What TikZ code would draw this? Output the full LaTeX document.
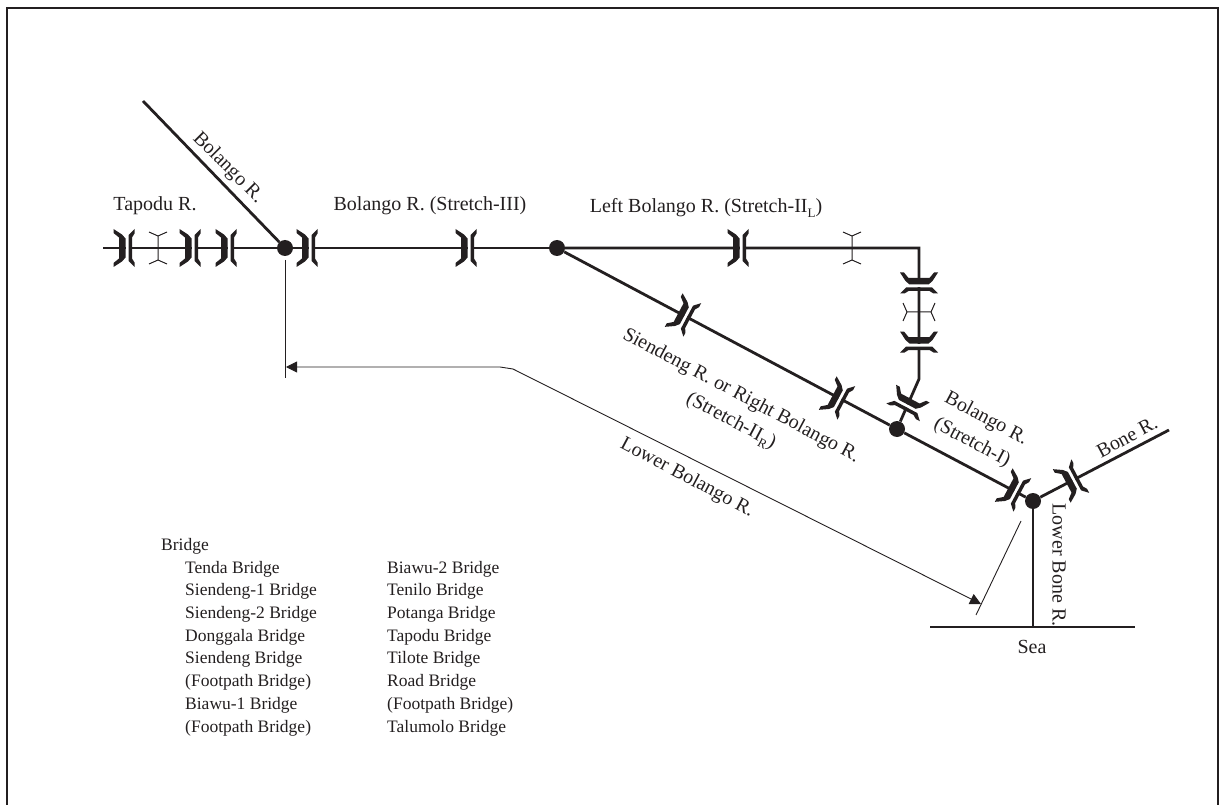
\documentclass[tikz,border=0pt]{standalone}
\usepackage{fontspec}
\setmainfont{Liberation Serif}
\usetikzlibrary{arrows.meta}
\definecolor{ink}{HTML}{231F20}
\newcommand{\lowsub}[1]{\raisebox{-.22em}{\fontsize{13}{13}\selectfont #1}}
\tikzset{
  x=1pt,y=-1pt,
  every node/.style={text=ink,inner sep=0pt},
  river/.style={draw=ink,line width=2.8pt},
  frameline/.style={draw=ink,line width=2.4pt},
  thinline/.style={draw=ink,line width=.9pt},
  dimline/.style={draw=ink,line width=.9pt,{Triangle[length=11pt,width=11pt]}-{Triangle[length=11pt,width=11pt]}},
  junction/.style={circle,fill=ink,minimum size=16pt},
  lab/.style={font=\fontsize{20}{24}\selectfont},
  labb/.style={font=\fontsize{20}{24}\selectfont,anchor=base},
  leg/.style={font=\fontsize{17.5}{21}\selectfont,anchor=base west},
  thickbridge/.pic={
    \fill[white] (1.5,-5) rectangle (4.5,5);
    \fill[ink] (-10.5,-19) -- (-10.5,-15) -- (-5,-10.5) -- (-5,10.5) -- (-10.5,15) -- (-10.5,19) -- (-2,13.5) -- (1.5,9.5) -- (1.5,-9.5) -- (-2,-13.5) -- cycle;
    \fill[ink] (10.5,-19) -- (10.5,-14.5) -- (8,-10.5) -- (8,10.5) -- (10.5,14.5) -- (10.5,19) -- (4.5,13) -- (4.5,-13) -- cycle;
  },
  thinbridge/.pic={
    \draw[ink,line width=1pt] (-9,-16) -- (0,-12) -- (9,-16) (0,-12) -- (0,12) (-9,16) -- (0,12) -- (9,16);
  }
}
\begin{document}
\begin{tikzpicture}
\useasboundingbox (0,0) rectangle (1219,805);
% frame
\coordinate (fa) at (7,805); \coordinate (fb) at (7,8); \coordinate (fc) at (1218,8); \coordinate (fd) at (1218,805);
\draw[frameline] (fa) -- (fb) -- (fc) -- (fd);
% river network
\node[junction] (A) at (285,248) {};
\node[junction] (B) at (557,248) {};
\node[junction] (C) at (897,429) {};
\node[junction] (D) at (1033,501) {};
\coordinate (tapodu) at (103,248);
\coordinate (bolangotop) at (143,101);
\coordinate (corner) at (919,248);
\coordinate (bend) at (919,379);
\coordinate (bone) at (1169,430);
\coordinate (seaL) at (930,627);
\coordinate (seaR) at (1135,627);
\coordinate (seaM) at (1033,627);
\draw[river] (tapodu) -- (A);
\draw[river] (bolangotop) -- (A);
\draw[river] (A) -- (B);
\draw[river] (B) -- (corner) -- (bend) -- (C);
\draw[river] (B) -- (C);
\draw[river] (C) -- (D);
\draw[river] (D) -- (bone);
\draw[river] (D) -- (seaM);
\draw[river] (seaL) -- (seaR);
% bridges
\pic at (124,248) {thickbridge};
\pic at (158,248) {thinbridge};
\pic at (190,248) {thickbridge};
\pic at (226,248) {thickbridge};
\pic at (307,248) {thickbridge};
\pic at (466,248) {thickbridge};
\pic at (738,248) {thickbridge};
\pic at (852,248) {thinbridge};
\pic[rotate=-90] at (919,283) {thickbridge};
\pic[rotate=-90] at (919,312) {thinbridge};
\pic[rotate=-90] at (919,342) {thickbridge};
\pic[rotate=-118] at (908,403) {thickbridge};
\pic[rotate=-28] at (683,315) {thickbridge};
\pic[rotate=-28] at (837,398) {thickbridge};
\pic[rotate=-28] at (1013,490) {thickbridge};
\pic[rotate=28] at (1071,481) {thickbridge};
% dimension lines
\coordinate (t1a) at (285,260); \coordinate (t1b) at (285,378);
\coordinate (t2a) at (1021,521); \coordinate (t2b) at (976,615);
\coordinate (d1) at (286,367); \coordinate (d2) at (500,367); \coordinate (d3) at (513,369); \coordinate (d4) at (981,604);
\draw[thinline] (t1a) -- (t1b);
\draw[thinline] (t2a) -- (t2b);
\draw[dimline] (d1) -- (d2) -- (d3) -- (d4);
% labels
\node[labb] (l1) at (155,211) {Tapodu R.};
\node[labb] (l2) at (430,211) {Bolango R. (Stretch-III)};
\node[labb] (l3) at (706,213) {Left Bolango R. (Stretch-II\lowsub{L})};
\node[lab,rotate=-45] (l4) at (228,168) {Bolango R.};
\node[lab,rotate=-28] (l5) at (741,396) {Siendeng R. or Right Bolango R.};
\node[lab,rotate=-28] (l6) at (731,421) {(Stretch-II\lowsub{R})};
\node[lab,rotate=-28] (l7) at (687,478) {Lower Bolango R.};
\node[lab,rotate=-28] (l8) at (986,419) {Bolango R.};
\node[lab,rotate=-28] (l9) at (972,443) {(Stretch-I)};
\node[lab,rotate=28] (l10) at (1127,437) {Bone R.};
\node[lab,rotate=-90] (l11) at (1059,565) {Lower Bone R.};
\node[lab] (l12) at (1032,647) {Sea};
% legend
\node[leg] (g0) at (161,550) {Bridge};
\node[leg] (g1) at (185,573) {Tenda Bridge};
\node[leg] (g2) at (185,595) {Siendeng-1 Bridge};
\node[leg] (g3) at (185,618) {Siendeng-2 Bridge};
\node[leg] (g4) at (185,641) {Donggala Bridge};
\node[leg] (g5) at (185,663) {Siendeng Bridge};
\node[leg] (g6) at (185,686) {(Footpath Bridge)};
\node[leg] (g7) at (185,709) {Biawu-1 Bridge};
\node[leg] (g8) at (185,732) {(Footpath Bridge)};
\node[leg] (h1) at (387,573) {Biawu-2 Bridge};
\node[leg] (h2) at (387,595) {Tenilo Bridge};
\node[leg] (h3) at (387,618) {Potanga Bridge};
\node[leg] (h4) at (387,641) {Tapodu Bridge};
\node[leg] (h5) at (387,663) {Tilote Bridge};
\node[leg] (h6) at (387,686) {Road Bridge};
\node[leg] (h7) at (387,709) {(Footpath Bridge)};
\node[leg] (h8) at (387,732) {Talumolo Bridge};
\end{tikzpicture}
\end{document}
